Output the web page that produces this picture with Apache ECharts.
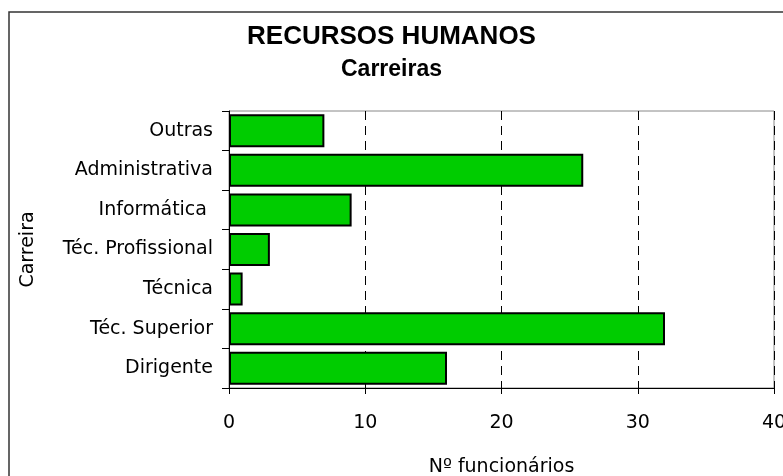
<!DOCTYPE html>
<html>
<head>
<meta charset="utf-8">
<script src="https://cdn.jsdelivr.net/npm/echarts@6/dist/echarts.min.js"></script>
<style>
html,body{margin:0;padding:0;background:#fff;overflow:hidden;}
#chart{width:783px;height:476px;}
</style>
</head>
<body>
<div id="chart"></div>
<script>
// carreiras, de baixo para cima
var carreiras = ['Dirigente', 'Téc. Superior', 'Técnica', 'Téc. Profissional', 'Informática ', 'Administrativa', 'Outras'];
var funcionarios = [16, 32, 1, 3, 9, 26, 7];
var xTicks = [0, 10, 20, 30, 40];

var labelFont = "Tahoma, 'DejaVu Sans', sans-serif";
var chart = echarts.init(document.getElementById('chart'));

chart.setOption({
    backgroundColor: '#fff',
    animation: false,
    title: {
        text: 'RECURSOS HUMANOS',
        subtext: 'Carreiras',
        left: 'center',
        top: 19,
        itemGap: 8,
        textStyle: {fontFamily: "'Liberation Sans', Arial, sans-serif", fontWeight: 'bold', fontSize: 26, color: '#000'},
        subtextStyle: {fontFamily: "'Liberation Sans', Arial, sans-serif", fontWeight: 'bold', fontSize: 23, color: '#000'}
    },
    graphic: [{
        // moldura exterior
        type: 'rect',
        shape: {x: 9, y: 12, width: 800, height: 500},
        style: {fill: 'none', stroke: '#333', lineWidth: 1.5},
        silent: true
    }],
    grid: {
        left: 229, right: 9, top: 111, bottom: 88,
        containLabel: false,
        outerBoundsMode: 'none',
        show: true, borderColor: '#888', borderWidth: 1, backgroundColor: 'transparent'
    },
    xAxis: {
        type: 'value',
        min: xTicks[0], max: xTicks[xTicks.length - 1], interval: 10,
        name: 'Nº funcionários',
        nameLocation: 'middle',
        nameGap: 70,
        nameTextStyle: {fontFamily: labelFont, fontSize: 19, color: '#000'},
        axisLine: {show: true, lineStyle: {color: '#000', width: 1}},
        axisTick: {show: true, length: 6, lineStyle: {color: '#000'}},
        axisLabel: {margin: 26, fontFamily: labelFont, fontSize: 19, color: '#000'},
        splitLine: {show: true, lineStyle: {color: '#000', type: [9, 6], width: 1}}
    },
    yAxis: {
        type: 'category',
        data: carreiras,
        name: 'Carreira',
        nameLocation: 'middle',
        nameGap: 191,
        nameTextStyle: {fontFamily: labelFont, fontSize: 19, color: '#000'},
        axisLine: {show: true, lineStyle: {color: '#000', width: 1}},
        axisTick: {show: true, length: 7, lineStyle: {color: '#000'}},
        axisLabel: {margin: 16, fontFamily: labelFont, fontSize: 19, color: '#000'},
        splitLine: {show: false}
    },
    series: [{
        type: 'bar',
        data: funcionarios,
        barWidth: 33,
        itemStyle: {color: '#00cc00', borderColor: '#000', borderWidth: 2}
    }]
});
</script>
</body>
</html>
